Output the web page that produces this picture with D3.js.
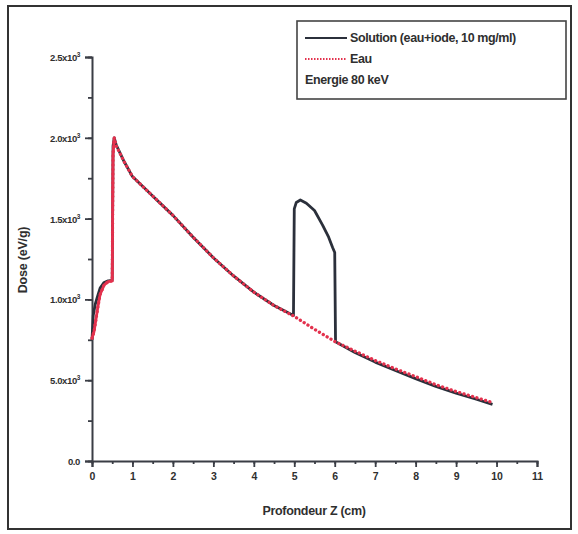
<!DOCTYPE html>
<html><head><meta charset="utf-8">
<script src="https://cdn.jsdelivr.net/npm/d3@7"></script>
<style>
body{margin:0;background:#fff;}
text{font-family:"Liberation Sans",Arial,sans-serif;font-weight:bold;fill:#2f2f2f;}
</style></head>
<body><svg id="c" width="578" height="534"></svg>
<script>
// ---- data ----
const depthEau = [0,0.05,0.1,0.15,0.2,0.3,0.4,0.5,0.52,0.55,0.6,0.8,1.0,1.5,2.0,2.5,3.0,3.5,4.0,4.5,5.0,5.5,6.0,6.5,7.0,7.5,8.0,8.5,9.0,9.5,9.9];
const doseEau  = [760,800,880,960,1030,1090,1110,1115,1900,2000,1950,1850,1760,1640,1520,1385,1258,1145,1045,962,895,815,740,680,622,570,522,472,430,392,362];
const depthSol = [0,0.03,0.08,0.15,0.2,0.3,0.4,0.5,0.52,0.55,0.6,0.8,1.0,1.5,2.0,2.5,3.0,3.5,4.0,4.5,4.98,5.0,5.05,5.15,5.3,5.5,5.7,5.85,5.95,6.0,6.02,6.5,7.0,7.5,8.0,8.5,9.0,9.5,9.9];
const doseSol  = [750,900,970,1030,1070,1105,1115,1118,1950,2000,1955,1850,1760,1640,1520,1385,1258,1145,1045,962,900,1560,1600,1615,1595,1550,1460,1385,1320,1290,738,672,612,560,510,462,420,382,350];
const xTicks = [0,1,2,3,4,5,6,7,8,9,10,11];
const yTicks = [0,500,1000,1500,2000,2500];
const yTickLabels = ["0.0","5.0x10","1.0x10","1.5x10","2.0x10","2.5x10"];
const legendLabels = ["Solution (eau+iode, 10 mg/ml)","Eau","Energie 80 keV"];

const svg = d3.select("#c");
const x = d3.scaleLinear().domain([0,11]).range([92,537]);
const y = d3.scaleLinear().domain([0,2500]).range([461,57]);
const axisCol = "#3a3d45";

// outer frame
svg.append("rect").attr("x",8).attr("y",6).attr("width",563).attr("height",523)
  .attr("fill","none").attr("stroke","#333").attr("stroke-width",2);

// x axis
const gx = svg.append("g").attr("transform","translate(0,461)");
gx.call(d3.axisBottom(x).tickValues(d3.range(0,11.01,0.5)).tickSize(3).tickFormat(""));
gx.call(g=>{g.select(".domain").remove();});
gx.append("g").call(d3.axisBottom(x).tickValues(xTicks).tickSize(6).tickFormat(d3.format("d")))
  .call(g=>{g.select(".domain").attr("stroke",axisCol).attr("stroke-width",2);
    g.selectAll("text").attr("font-size",10.5).attr("dy","0.95em").attr("fill","#2f2f2f").attr("font-family","Liberation Sans, Arial").attr("font-weight","bold");});
gx.selectAll("line").attr("stroke",axisCol).attr("stroke-width",1.8);

// y axis
const gy = svg.append("g").attr("transform","translate(92,0)");
gy.call(d3.axisLeft(y).tickValues(d3.range(0,2501,250)).tickSize(4).tickFormat(""));
gy.call(g=>g.select(".domain").remove());
const gy2 = gy.append("g").call(d3.axisLeft(y).tickValues(yTicks).tickSize(7).tickFormat(""));
gy2.select(".domain").attr("stroke",axisCol).attr("stroke-width",2);
gy.selectAll("line").attr("stroke",axisCol).attr("stroke-width",1.8);
yTicks.forEach((v,i)=>{
  const t = svg.append("text").attr("x",80).attr("y",y(v)+4).attr("text-anchor","end")
    .attr("font-size",9.5).attr("letter-spacing","-0.4");
  t.append("tspan").text(yTickLabels[i]);
  if(i>0) t.append("tspan").attr("dy",-4).attr("font-size",6.5).text("3");
});

// titles
svg.append("text").attr("x",314).attr("y",515).attr("text-anchor","middle").attr("font-size",12.5)
  .attr("letter-spacing","-0.3").text("Profondeur Z (cm)");
svg.append("text").attr("transform","translate(27,260) rotate(-90)").attr("text-anchor","middle")
  .attr("font-size",12.5).attr("letter-spacing","-0.2").text("Dose (eV/g)");

// lines
const line = d3.line().x(d=>x(d[0])).y(d=>y(d[1]));
svg.append("path").datum(depthSol.map((d,i)=>[d,doseSol[i]])).attr("d",line)
  .attr("fill","none").attr("stroke","#2b303b").attr("stroke-width",2.8).attr("stroke-linejoin","round");
svg.append("path").datum(depthEau.map((d,i)=>[d,doseEau[i]])).attr("d",line)
  .attr("fill","none").attr("stroke","#e3314d").attr("stroke-width",3.3)
  .attr("stroke-dasharray","0.1 4.4").attr("stroke-linecap","round").attr("stroke-linejoin","round");
// solid red segment near the entrance
svg.append("path").datum(depthEau.slice(0,10).map((d,i)=>[d,doseEau[i]])).attr("d",line)
  .attr("fill","none").attr("stroke","#e3314d").attr("stroke-width",2.8);

// legend
svg.append("rect").attr("x",297).attr("y",21).attr("width",269).attr("height",78)
  .attr("fill","#fff").attr("stroke","#444").attr("stroke-width",1.6);
svg.append("line").attr("x1",305).attr("x2",347).attr("y1",38).attr("y2",38)
  .attr("stroke","#2b303b").attr("stroke-width",2.2);
svg.append("line").attr("x1",305).attr("x2",347).attr("y1",59).attr("y2",59)
  .attr("stroke","#e3314d").attr("stroke-width",2).attr("stroke-dasharray","1.5 1.5");
[[350,42],[350,63],[305,84]].forEach((p,i)=>{
  svg.append("text").attr("x",p[0]).attr("y",p[1]).attr("font-size",12.5)
    .attr("letter-spacing","-0.4").text(legendLabels[i]);
});
</script></body></html>
